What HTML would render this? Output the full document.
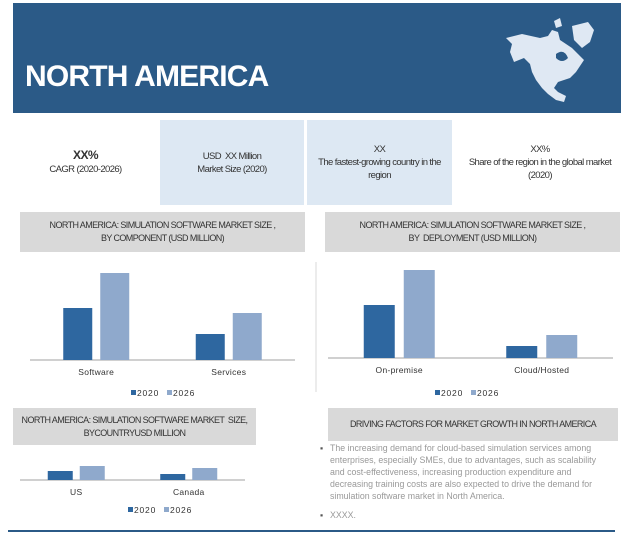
<!DOCTYPE html>
<html><head><meta charset="utf-8"><style>
body{margin:0;background:#fff;font-family:"Liberation Sans",sans-serif;}
#root{position:relative;width:630px;height:536px;overflow:hidden;}
.abs{position:absolute;}
.gray{background:#d9d9d9;color:#333;font-size:9px;text-align:center;line-height:13px;display:flex;align-items:center;justify-content:center;letter-spacing:-0.6px;}
.stat{font-size:9.5px;color:#333;text-align:center;display:flex;align-items:center;justify-content:center;line-height:13px;letter-spacing:-0.6px;}
svg text{font-family:"Liberation Sans",sans-serif;}
</style></head><body><div id="root">
<div class="abs" style="left:13px;top:3px;width:608px;height:110px;background:#2b5a87;"></div>
<div class="abs" style="left:25px;top:60px;color:#fff;font-weight:bold;font-size:30px;letter-spacing:-0.8px;">NORTH AMERICA</div>
<svg class="abs" style="left:500px;top:18px" width="100" height="90" viewBox="0 0 100 90">
<path d="M6,20 L22,16 L40,20 L48,18 L52,12 L58,14 L60,22 L66,26 L72,30 L78,36 L84,42 L80,48 L76,54 L70,60 L64,62 L58,64 L54,70 L58,74 L66,78 L64,84 L56,82 L48,76 L42,70 L36,62 L32,54 L30,46 L24,40 L14,44 L10,34 L12,26 Z" fill="#dfe8f3"/>
<path d="M72,8 L88,4 L94,12 L90,24 L82,30 L74,22 Z" fill="#dfe8f3"/>
<path d="M54,3 L60,0 L62,8 L56,10 Z" fill="#dfe8f3"/>
<path d="M56,36 Q64,30 68,40 Q62,46 56,40Z" fill="#2b5a87"/>
</svg>
<div class="abs stat" style="left:13px;top:120px;width:145px;height:85px;"><div><b style="font-size:12px">XX%</b><br>CAGR (2020-2026)</div></div>
<div class="abs stat" style="left:160px;top:120px;width:144px;height:85px;background:#dde8f3;"><div>USD &nbsp;XX Million<br>Market Size (2020)</div></div>
<div class="abs stat" style="left:307px;top:120px;width:145px;height:85px;background:#dde8f3;"><div>XX<br>The fastest-growing country in the<br>region</div></div>
<div class="abs stat" style="left:458px;top:120px;width:164px;height:85px;"><div>XX%<br>Share of the region in the global market<br>(2020)</div></div>
<div class="abs gray" style="left:20px;top:212px;width:285px;height:40px;">NORTH AMERICA: SIMULATION SOFTWARE MARKET SIZE ,<br>BY COMPONENT (USD MILLION)</div>
<div class="abs gray" style="left:325px;top:212px;width:295px;height:40px;">NORTH AMERICA: SIMULATION SOFTWARE MARKET SIZE ,<br>BY &nbsp;DEPLOYMENT (USD MILLION)</div>
<div class="abs gray" style="left:13px;top:408px;width:243px;height:37px;">NORTH AMERICA: SIMULATION SOFTWARE MARKET &nbsp;SIZE,<br>BYCOUNTRYUSD MILLION</div>
<div class="abs gray" style="left:328px;top:408px;width:290px;height:33px;">DRIVING FACTORS FOR MARKET GROWTH IN NORTH AMERICA</div>
<div class="abs" style="left:320px;top:442px;width:290px;font-size:8.8px;color:#999;line-height:12px;">
<div style="display:flex"><span style="width:10px;flex:none;color:#555">▪</span><span>The increasing demand for cloud-based simulation services among enterprises, especially SMEs, due to advantages, such as scalability and cost-effectiveness, increasing production expenditure and decreasing training costs are also expected to drive the demand for simulation software market in North America.</span></div>
<div style="display:flex;margin-top:7px"><span style="width:10px;flex:none;color:#555">▪</span><span>XXXX.</span></div></div>
<div class="abs" style="left:8px;top:530px;width:607px;height:2px;background:#2b5a87;"></div>
<svg id="chart" class="abs" style="left:0;top:0" width="630" height="536"></svg>
<script>
const compCats=["Software","Services"];
const comp2020=[52,26];
const comp2026=[87,47];
const depCats=["On-premise","Cloud/Hosted"];
const dep2020=[53,12];
const dep2026=[88,23];
const ctryCats=["US","Canada"];
const ctry2020=[9,6];
const ctry2026=[14,12];
const legendLabels=["2020","2026"];
const NS="http://www.w3.org/2000/svg";
const svg=document.getElementById('chart');
function mk(t,a){const e=document.createElementNS(NS,t);for(const k in a)e.setAttribute(k,a[k]);svg.appendChild(e);return e;}
function chart(cfg){
 const y=v=>cfg.base-v*cfg.scale;
 const ax=mk('line',{x1:cfg.x0,x2:cfg.x1,y1:cfg.base,y2:cfg.base,stroke:'#d0d0d0','stroke-width':2});
 
 
 const n=cfg.cats.length,gw=(cfg.x1-cfg.x0)/n;
 cfg.cats.forEach((c,i)=>{
  const cx=cfg.x0+gw*(i+0.5);
  [[cfg.s1,'#2e67a0',-1],[cfg.s2,'#8fa9cc',1]].forEach(([s,col,d],j)=>{
   const bx=d<0?cx-cfg.gap/2-cfg.bw:cx+cfg.gap/2;
   const r=mk('rect',{x:bx,y:y(s[i]),width:cfg.bw,height:cfg.base-y(s[i]),fill:col});
   
   
  });
  const t=mk('text',{x:cx,y:cfg.base+15,'text-anchor':'middle','font-size':8.5,fill:'#333','letter-spacing':'0.3'});
  t.textContent=c;
  
  
 });
 legendLabels.forEach((l,j)=>{
  const lx=cfg.lx+j*36;
  const r=mk('rect',{x:lx,y:cfg.ly-6,width:5,height:5,fill:j?'#8fa9cc':'#2e67a0'});
  
  
  const t=mk('text',{x:lx+6,y:cfg.ly,'font-size':8.5,fill:'#333','letter-spacing':'0.8'});
  t.textContent=l;
  
  
 });
}
chart({name:'component',cats:compCats,s1:comp2020,s2:comp2026,x0:30,x1:295,base:360,scale:1,bw:29,gap:8,lx:131,ly:396});
chart({name:'deployment',cats:depCats,s1:dep2020,s2:dep2026,x0:328,x1:613,base:358,scale:1,bw:31,gap:9,lx:435,ly:396});
chart({name:'country',cats:ctryCats,s1:ctry2020,s2:ctry2026,x0:20,x1:245,base:480,scale:1,bw:25,gap:7,lx:128,ly:513});
const vl=mk('line',{x1:316,x2:316,y1:262,y2:392,stroke:'#d8d8d8','stroke-width':1});


</script>
</div></body></html>
